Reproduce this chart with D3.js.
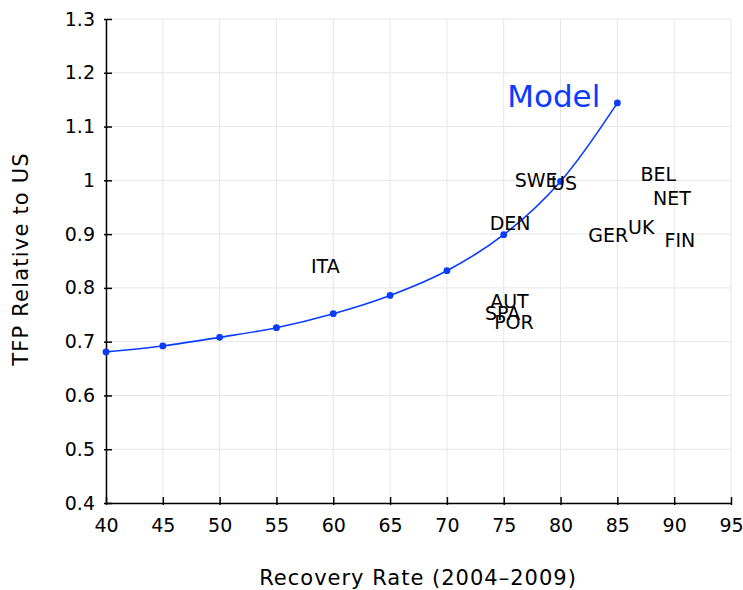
<!DOCTYPE html>
<html>
<head>
<meta charset="utf-8">
<script src="https://cdn.jsdelivr.net/npm/d3@7"></script>
<style>
  body { margin: 0; background: #fff; }
  text { font-family: "DejaVu Sans", sans-serif; }
  .grid line { stroke: #e6e6e6; stroke-width: 1; }
  .axis path, .axis line { stroke: #000; stroke-width: 1.5; }
</style>
</head>
<body>
<div id="chart"></div>
<script>
// model curve
var modelX = [40, 45, 50, 55, 60, 65, 70, 75, 80, 85];
var modelY = [0.681, 0.692, 0.708, 0.726, 0.752, 0.786, 0.832, 0.899, 0.998, 1.144];

// country labels
var countries = ["ITA", "SWE", "US", "DEN", "BEL", "NET", "UK", "GER", "FIN", "AUT", "SPA", "POR"];
var countryX = [59.3, 77.85, 80.3, 75.56, 88.6, 89.8, 87.1, 84.2, 90.5, 75.5, 74.9, 75.9];
var countryY = [0.841, 1.0, 0.995, 0.921, 1.012, 0.967, 0.913, 0.898, 0.889, 0.776, 0.753, 0.737];

var xTicks = [40, 45, 50, 55, 60, 65, 70, 75, 80, 85, 90, 95];
var yTicks = [0.4, 0.5, 0.6, 0.7, 0.8, 0.9, 1, 1.1, 1.2, 1.3];

var width = 743, height = 590;
var margin = {top: 19, right: 12, bottom: 87, left: 106};
var w = width - margin.left - margin.right,
    h = height - margin.top - margin.bottom;

var blue = "#0a3cff";

var svg = d3.select("#chart").append("svg")
    .attr("width", width)
    .attr("height", height);

var g = svg.append("g")
    .attr("transform", "translate(" + margin.left + "," + margin.top + ")");

var x = d3.scaleLinear().domain([40, 95]).range([0, w]);
var y = d3.scaleLinear().domain([0.4, 1.3]).range([h, 0]);

// grid
g.append("g").attr("class", "grid")
    .selectAll("line").data(xTicks).enter().append("line")
    .attr("x1", d => x(d)).attr("x2", d => x(d))
    .attr("y1", 0).attr("y2", h);
g.append("g").attr("class", "grid")
    .selectAll("line").data(yTicks).enter().append("line")
    .attr("y1", d => y(d)).attr("y2", d => y(d))
    .attr("x1", 0).attr("x2", w);

// axes
var xAxis = d3.axisBottom(x).tickValues(xTicks).tickSizeInner(-6).tickSizeOuter(0).tickPadding(16);
var yAxis = d3.axisLeft(y).tickValues(yTicks).tickSizeInner(-6).tickSizeOuter(0).tickPadding(11)
    .tickFormat(d => d3.format("")(+d.toFixed(1)));

var gx = g.append("g").attr("class", "axis")
    .attr("transform", "translate(0," + h + ")")
    .call(xAxis);
gx.selectAll("text").style("font-size", "19px").attr("fill", "#000");
gx.selectAll(".tick line").attr("y1", 2);

var gy = g.append("g").attr("class", "axis")
    .call(yAxis);
gy.selectAll("text").style("font-size", "19px").attr("fill", "#000");
gy.selectAll(".tick line").attr("x1", -2);

// axis titles
svg.append("text")
    .attr("x", 418).attr("y", 585)
    .attr("text-anchor", "middle")
    .style("font-size", "21px")
    .style("letter-spacing", "1px")
    .text("Recovery Rate (2004–2009)");

svg.append("text")
    .attr("transform", "translate(28,259) rotate(-90)")
    .attr("text-anchor", "middle")
    .style("font-size", "21px")
    .style("letter-spacing", "1.2px")
    .text("TFP Relative to US");

// model line
var pts = modelX.map((d, i) => [d, modelY[i]]);
var line = d3.line()
    .x(d => x(d[0]))
    .y(d => y(d[1]))
    .curve(d3.curveCatmullRom);

g.append("path")
    .datum(pts)
    .attr("d", line)
    .attr("fill", "none")
    .attr("stroke", blue)
    .attr("stroke-width", 1.6);

g.selectAll(".dot")
    .data(pts)
    .enter().append("circle")
    .attr("class", "dot")
    .attr("cx", d => x(d[0]))
    .attr("cy", d => y(d[1]))
    .attr("r", 3.4)
    .attr("fill", blue);

g.append("text")
    .attr("x", x(79.4))
    .attr("y", y(1.157))
    .attr("dy", "0.36em")
    .attr("text-anchor", "middle")
    .attr("fill", blue)
    .style("font-size", "31px")
    .text("Model");

// country labels
g.selectAll(".country")
    .data(countries)
    .enter().append("text")
    .attr("class", "country")
    .attr("x", (d, i) => x(countryX[i]))
    .attr("y", (d, i) => y(countryY[i]))
    .attr("dy", "0.36em")
    .attr("text-anchor", "middle")
    .style("font-size", "19px")
    .text(d => d);
</script>
</body>
</html>
